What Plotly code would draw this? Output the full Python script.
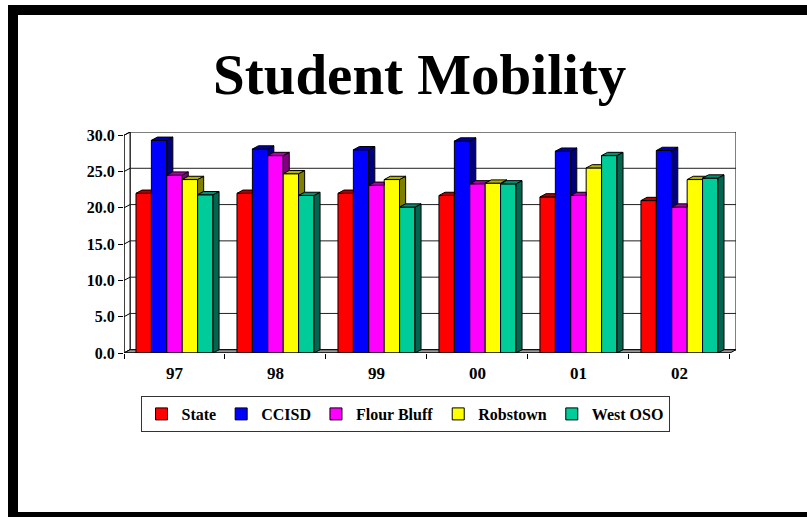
import plotly.graph_objects as go

# ---- data -------------------------------------------------------------
years = ["97", "98", "99", "00", "01", "02"]
series_names = ["State", "CCISD", "Flour Bluff", "Robstown", "West OSO"]
state = [22.0, 22.0, 22.0, 21.7, 21.5, 21.0]
ccisd = [29.3, 28.1, 28.0, 29.2, 27.8, 27.9]
flour_bluff = [24.5, 27.2, 23.1, 23.3, 21.7, 20.1]
robstown = [23.9, 24.7, 23.9, 23.4, 25.5, 23.9]
west_oso = [21.8, 21.7, 20.1, 23.3, 27.2, 24.1]
y_ticks = [0, 5, 10, 15, 20, 25, 30]

series_values = [state, ccisd, flour_bluff, robstown, west_oso]
front_colors = ["#FF0000", "#0000FF", "#FF00FF", "#FFFF00", "#00CC99"]
side_colors = ["#800000", "#000080", "#800080", "#808000", "#006650"]
top_colors = ["#B00000", "#0000B0", "#B000B0", "#B0B000", "#009070"]

# ---- geometry of the pseudo-3D box ------------------------------------
W, H = 807, 517
L, R, T, B = 124, 71, 132, 164          # plot-area margins (px)
n_cat = len(years)
DX = 0.06                               # depth offset, x units
DY = 0.45                               # depth offset, y units
y_max = max(y_ticks)
GROUP = 0.7625                          # fraction of a slot used by bars
bar_w = GROUP / len(series_names)
x_pos = list(range(n_cat))
x_lo, x_hi = -0.5, n_cat - 0.5

fig = go.Figure()

# front faces as ordinary grouped bars
for name, vals, col in zip(series_names, series_values, front_colors):
    fig.add_trace(go.Bar(
        x=x_pos, y=vals, name=name,
        marker=dict(color=col, line=dict(color="black", width=1)),
        hoverinfo="skip",
    ))


def poly(pts):
    xs = [p[0] for p in pts] + [pts[0][0], None]
    ys = [p[1] for p in pts] + [pts[0][1], None]
    return xs, ys


# side and top faces, clipped where the neighbouring bar hides them
n_ser = len(series_names)
for k in range(n_ser):
    sx, sy, tx, ty = [], [], [], []
    for i in range(n_cat):
        v = series_values[k][i]
        xl = i - GROUP / 2 + k * bar_w
        xr = xl + bar_w
        nxt = series_values[k + 1][i] if k + 1 < n_ser else None
        # side face
        if nxt is None:
            pts = [(xr, 0), (xr + DX, DY), (xr + DX, v + DY), (xr, v)]
        elif v > nxt:
            pts = [(xr, nxt), (xr + DX, nxt + DY), (xr + DX, v + DY), (xr, v)]
        else:
            pts = None
        if pts:
            a, b = poly(pts)
            sx += a
            sy += b
        # top face
        if nxt is None or nxt <= v:
            pts = [(xl, v), (xr, v), (xr + DX, v + DY), (xl + DX, v + DY)]
        elif nxt >= v + DY:
            pts = [(xl, v), (xr, v), (xr, v + DY), (xl + DX, v + DY)]
        else:
            t = (nxt - v) / DY
            pts = [(xl, v), (xr, v), (xr, nxt), (xr + DX * t, nxt),
                   (xr + DX, v + DY), (xl + DX, v + DY)]
        a, b = poly(pts)
        tx += a
        ty += b
    for xs, ys, col in ((sx, sy, side_colors[k]), (tx, ty, top_colors[k])):
        if xs:
            fig.add_trace(go.Scatter(
                x=xs, y=ys, mode="lines", fill="toself", fillcolor=col,
                line=dict(color="black", width=1), showlegend=False,
                hoverinfo="skip",
            ))

shapes = []
# back wall
shapes.append(dict(type="rect", xref="x", yref="y", layer="below",
                   x0=x_lo + DX, x1=x_hi + DX, y0=DY, y1=y_max + DY,
                   fillcolor="white", line=dict(color="black", width=1)))
# left wall
shapes.append(dict(type="path", xref="x", yref="y", layer="below",
                   path=f"M{x_lo},0 L{x_lo + DX},{DY} L{x_lo + DX},{y_max + DY} "
                        f"L{x_lo},{y_max} Z",
                   fillcolor="white", line=dict(color="black", width=1)))
# gridlines on the back wall and their return on the left wall
for v in y_ticks[1:-1]:
    shapes.append(dict(type="line", xref="x", yref="y", layer="below",
                       x0=x_lo + DX, x1=x_hi + DX, y0=v + DY, y1=v + DY,
                       line=dict(color="#202020", width=1)))
for v in y_ticks:
    shapes.append(dict(type="line", xref="x", yref="y", layer="below",
                       x0=x_lo, x1=x_lo + DX, y0=v, y1=v + DY,
                       line=dict(color="black", width=1)))
# floor
shapes.append(dict(type="path", xref="x", yref="y", layer="below",
                   path=f"M{x_lo},0 L{x_hi},0 L{x_hi + DX},{DY} L{x_lo + DX},{DY} Z",
                   fillcolor="#999999", line=dict(color="black", width=1)))
# front axis lines
shapes.append(dict(type="line", xref="x", yref="y", layer="above",
                   x0=x_lo, x1=x_lo, y0=0, y1=y_max,
                   line=dict(color="black", width=1)))
shapes.append(dict(type="line", xref="x", yref="y", layer="above",
                   x0=x_lo, x1=x_hi, y0=0, y1=0,
                   line=dict(color="black", width=1)))

# heavy slide frame
pw, ph = W - L - R, H - T - B


def px(xp):
    return (xp - L) / pw


def py(yp):
    return (H - B - yp) / ph


shapes.append(dict(type="rect", xref="paper", yref="paper", layer="above",
                   x0=px(13), x1=px(W + 20), y0=py(517), y1=py(10),
                   fillcolor="rgba(0,0,0,0)", line=dict(color="black", width=10)))

serif = "Liberation Serif"

fig.update_layout(
    width=W, height=H,
    margin=dict(l=L, r=R, t=T, b=B, pad=0),
    paper_bgcolor="white", plot_bgcolor="white",
    barmode="group", bargap=1 - GROUP, bargroupgap=0,
    shapes=shapes,
    showlegend=True,
    legend=dict(
        orientation="h", x=px(405), xanchor="center", y=py(396), yanchor="top",
        bordercolor="#333333", borderwidth=1, bgcolor="white",
        font=dict(family=serif, size=16, color="black", weight="bold"),
        itemwidth=30, tracegroupgap=0, traceorder="normal",
    ),
    annotations=[dict(
        text="Student Mobility", xref="paper", yref="paper",
        x=px(419), y=py(74), xanchor="center", yanchor="middle",
        showarrow=False,
        font=dict(family=serif, size=57, color="black", weight="bold"),
    )],
    xaxis=dict(
        range=[x_lo, x_hi + DX], tickmode="array", tickvals=x_pos,
        ticktext=years, ticks="", showgrid=False, zeroline=False,
        showline=False, ticklabelstandoff=8,
        tickfont=dict(family=serif, size=17, color="black", weight="bold"),
        minor=dict(tickmode="linear", tick0=x_lo, dtick=1, ticks="outside",
                   ticklen=5, tickcolor="black", tickwidth=1, showgrid=False),
        fixedrange=True,
    ),
    yaxis=dict(
        range=[0, y_max + DY], tickmode="array", tickvals=y_ticks,
        ticktext=[f"{v:.1f}" for v in y_ticks], ticks="outside", ticklen=5,
        tickcolor="black", showgrid=False, zeroline=False, showline=False,
        tickfont=dict(family=serif, size=16, color="black", weight="bold"),
        fixedrange=True,
    ),
)

fig.write_html("out.html")
